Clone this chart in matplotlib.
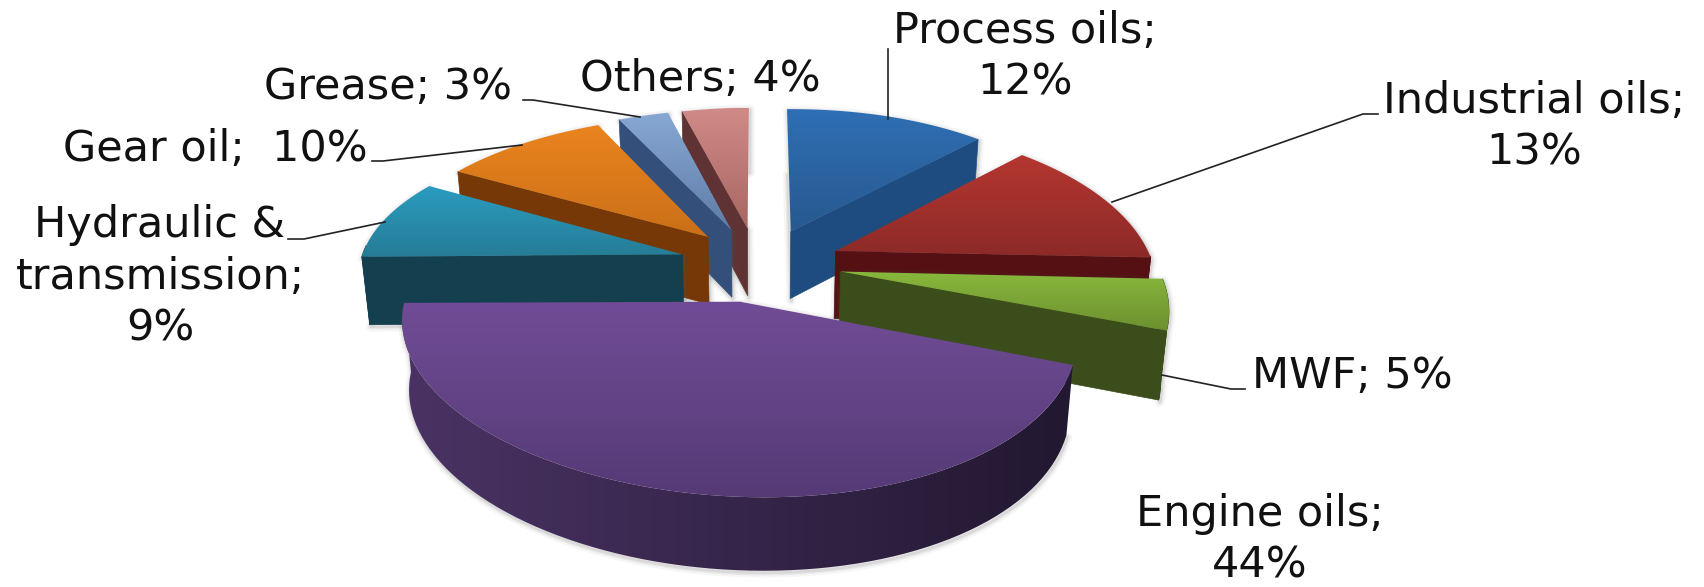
import matplotlib
matplotlib.use('Agg')
import numpy as np
import matplotlib.pyplot as plt
from matplotlib.colors import to_rgb, LinearSegmentedColormap
from matplotlib.patches import Polygon

categories = ['Process oils', 'Industrial oils', 'MWF', 'Engine oils',
              'Hydraulic & transmission', 'Gear oil', 'Grease', 'Others']
values = [12, 13, 5, 44, 9, 10, 3, 4]

label_texts = ['Process oils;\n12%', 'Industrial oils;\n13%', 'MWF; 5%', 'Engine oils;\n44%',
               'Hydraulic &\ntransmission;\n9%', 'Gear oil;  10%', 'Grease; 3%', 'Others; 4%']
label_pos = [(1025, 57), (1534, 127), (1352, 376), (1260, 540),
             (160, 277), (215, 149), (388, 87), (700, 79)]
leaders = [[(888, 119), (888, 49)],
           [(1112, 202), (1363, 114), (1378, 114)],
           [(1162, 375), (1231, 389), (1245, 389)],
           None,
           [(385, 222), (304, 239), (288, 239)],
           [(522, 145), (383, 161), (372, 161)],
           [(640, 117), (533, 100), (523, 100)],
           None]

# top face gradient (back, front) and wall colour
top_cols = [('#2f6fb5', '#27598f'), ('#b53630', '#8c2a28'), ('#88b83c', '#6c9030'), ('#714c96', '#553a76'),
            ('#2a9cbf', '#267c96'), ('#ea841e', '#ca6f18'), ('#88a8d4', '#5f7ca8'), ('#d08a88', '#a86662')]
wall_cols = ['#1e4c80', '#541012', '#3b4d1a', '#2a1e3c', '#143f4f', '#753806', '#34507a', '#5f3333']
engine_wall = ('#4a3364', '#221831')

# pie projection
cx, cy = 760, 264
a, b = 320, 150.7
k = 0.159
explode = 0.244
wall_h = 68
tilt = 7
nudge_x = [3, 5, 3, -10, -2, 0, -3, -3]


def project(X, Y, dx=0, bottom=False):
    X, Y = np.asarray(X, float), np.asarray(Y, float)
    den = 1 + k * Y
    x = cx + a * X / den
    y = cy - b * Y / den + tilt * X * (1 - Y)
    if bottom:
        x = cx + (x - cx) * 0.98
        y = y + wall_h / (1 + 0.06 * Y)
    return np.column_stack([x + dx, y])


def grad_fill(ax, poly, c0, c1, vertical=True, z=2):
    cmap = LinearSegmentedColormap.from_list('g', [to_rgb(c0), to_rgb(c1)])
    grad = np.linspace(0, 1, 128)
    grad = grad.reshape(-1, 1) if vertical else grad.reshape(1, -1)
    x0, y0 = poly.min(axis=0)
    x1, y1 = poly.max(axis=0)
    im = ax.imshow(grad, cmap=cmap, extent=(x0, x1, y1, y0), aspect='auto', zorder=z, interpolation='bilinear')
    patch = Polygon(poly, transform=ax.transData, fc='none', ec='none')
    ax.add_patch(patch)
    im.set_clip_path(patch)


fig = plt.figure(figsize=(17.04, 5.87), dpi=100)
ax = fig.add_axes([0, 0, 1, 1])
ax.set_xlim(0, 1704)
ax.set_ylim(587, 0)
ax.axis('off')

edges = np.cumsum([0] + values) / sum(values) * 360
slices = []
for i in range(len(values)):
    t0, t1 = edges[i], edges[i + 1]
    mid = np.radians((t0 + t1) / 2)
    ox, oy = explode * np.sin(mid), explode * np.cos(mid)
    th = np.radians(np.linspace(t0, t1, 80))
    slices.append((i, t0, t1, ox, oy, th))

# back slices first, engine oils goes last
order = [7, 6, 5, 4, 0, 1, 2, 3]
z = 2
for i in order:
    _, t0, t1, ox, oy, th = slices[i]
    dx = nudge_x[i]
    arc_x, arc_y = ox + np.sin(th), oy + np.cos(th)
    top_arc = project(arc_x, arc_y, dx)
    bot_arc = project(arc_x, arc_y, dx, bottom=True)
    apex_top = project([ox], [oy], dx)
    apex_bot = project([ox], [oy], dx, bottom=True)
    top_poly = np.vstack([apex_top, top_arc])
    col0, col1 = top_cols[i]

    # soft shadow around the lower edge
    sil = np.vstack([top_poly, bot_arc[::-1], apex_bot])
    for w, al in [(7, 0.05), (4, 0.08), (2, 0.1)]:
        ax.add_patch(Polygon(sil + [1, 2], fc='none', ec='#555555', lw=w, alpha=al, zorder=z, joinstyle='round'))
    z += 1

    # outer wall, only the part that faces the viewer
    vis = np.cos(th) < 0.02
    if vis.sum() > 1:
        wall = np.vstack([top_arc[vis], bot_arc[vis][::-1]])
        if i == 3:
            grad_fill(ax, wall, engine_wall[0], engine_wall[1], vertical=False, z=z)
        else:
            ax.add_patch(Polygon(wall, fc=wall_cols[i], ec=wall_cols[i], lw=0.5, zorder=z))
    # cut faces
    if np.sin(th[0]) < -1e-6:
        face = np.vstack([apex_top, top_arc[0], bot_arc[0], apex_bot])
        ax.add_patch(Polygon(face, fc=wall_cols[i], ec=wall_cols[i], lw=0.5, zorder=z))
    if np.sin(th[-1]) > 1e-6 or abs(t1 - 90) < 1e-6:
        face = np.vstack([apex_top, top_arc[-1], bot_arc[-1], apex_bot])
        ax.add_patch(Polygon(face, fc=wall_cols[i], ec=wall_cols[i], lw=0.5, zorder=z))
    z += 1
    grad_fill(ax, top_poly, col0, col1, z=z)
    z += 1

for txt, pos, lead in zip(label_texts, label_pos, leaders):
    ax.text(pos[0], pos[1], txt, ha='center', va='center', multialignment='center',
            fontsize=31, family='DejaVu Sans', color='#111111', linespacing=1.3, zorder=100)
    if lead is not None:
        ax.plot([p[0] for p in lead], [p[1] for p in lead], color='#222222', lw=1.2, zorder=99)

ax.set_xlim(0, 1704)
ax.set_ylim(587, 0)
fig.savefig('out.png', dpi=100)
plt.close()
